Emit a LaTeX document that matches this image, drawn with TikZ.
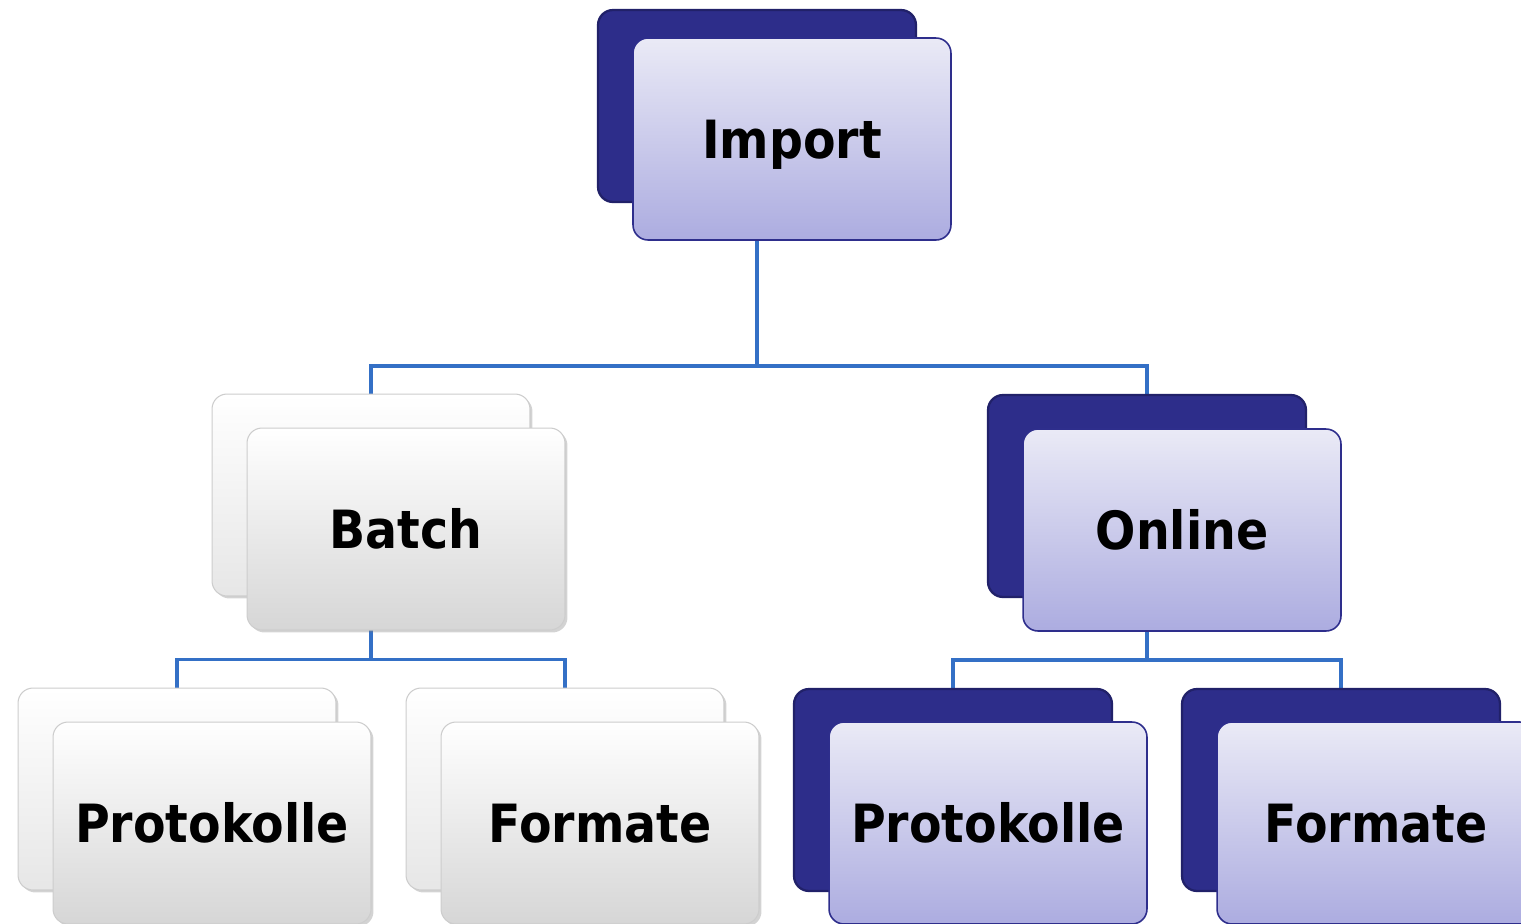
\documentclass[tikz,border=0pt]{standalone}
\usepackage{fontspec}
\newfontfamily\cardfont{DejaVu Sans Bold}[FakeStretch=0.9]
\usetikzlibrary{backgrounds,shadows}

\definecolor{linkblue}{RGB}{52,112,198}
\definecolor{navy}{RGB}{45,45,138}
\definecolor{navyedge}{RGB}{33,33,105}
\definecolor{navyline}{RGB}{46,46,140}
\definecolor{cardtop}{RGB}{234,234,246}
\definecolor{cardbottom}{RGB}{172,172,224}
\definecolor{greybottom}{RGB}{214,214,214}
\definecolor{greyedge}{RGB}{205,205,205}

\tikzset{
  card/.style={rounded corners=0.3cm, minimum width=6.36cm, minimum height=4.04cm,
    inner sep=0pt, text height=22pt, text depth=0pt, font=\cardfont\fontsize{30}{36}\selectfont},
  bluecard/.style={card, draw=navyline, line width=0.9pt, top color=cardtop, bottom color=cardbottom},
  blueback/.style={card, draw=navyedge, line width=1.3pt, fill=navy},
  greycard/.style={card, draw=greyedge, line width=0.6pt, top color=white, bottom color=greybottom,
    drop shadow={shadow xshift=0.05cm, shadow yshift=-0.05cm, opacity=0.35}},
  greyback/.style={greycard, bottom color=greybottom!60},
  link/.style={draw=linkblue, line width=2.2pt}
}

\begin{document}
\begin{tikzpicture}[x=0.02cm, y=-0.02cm]
    \useasboundingbox (0, 0) rectangle (1521, 923);

    % top level
    \node[blueback, minimum height=3.84cm] (importback) at (757, 106) {};
    \node[bluecard] (import) at (792, 139) {Import};

    % second level
    \node[greyback] (batchback) at (371, 495) {};
    \node[greycard] (batch) at (406, 529) {Batch};
    \node[blueback] (onlineback) at (1147, 496) {};
    \node[bluecard] (online) at (1182, 530) {Online};

    % third level, batch side
    \node[greyback] (batchprotback) at (177, 789) {};
    \node[greycard] (batchprot) at (212, 823) {Protokolle};
    \node[greyback] (batchformback) at (565, 789) {};
    \node[greycard] (batchform) at (600, 823) {Formate};

    % third level, online side
    \node[blueback] (onlineprotback) at (953, 790) {};
    \node[bluecard] (onlineprot) at (988, 823) {Protokolle};
    \node[blueback] (onlineformback) at (1341, 790) {};
    \node[bluecard] (onlineform) at (1376, 823) {Formate};

    % connectors
    \begin{scope}[on background layer]
        \path (importback.south) ++(0, 163) coordinate (importfork);
        \path (batchback.south) ++(0, 63) coordinate (batchfork);
        \path (onlineback.south) ++(0, 62) coordinate (onlinefork);
        \draw[link] (importback.south) -- (importfork);
        \draw[link] (batchback.north) |- (importfork) -| (onlineback.north);
        \draw[link] (batchback.south) -- (batchfork);
        \draw[link] (batchprotback.north) |- (batchfork) -| (batchformback.north);
        \draw[link] (onlineback.south) -- (onlinefork);
        \draw[link] (onlineprotback.north) |- (onlinefork) -| (onlineformback.north);
    \end{scope}
\end{tikzpicture}
\end{document}
